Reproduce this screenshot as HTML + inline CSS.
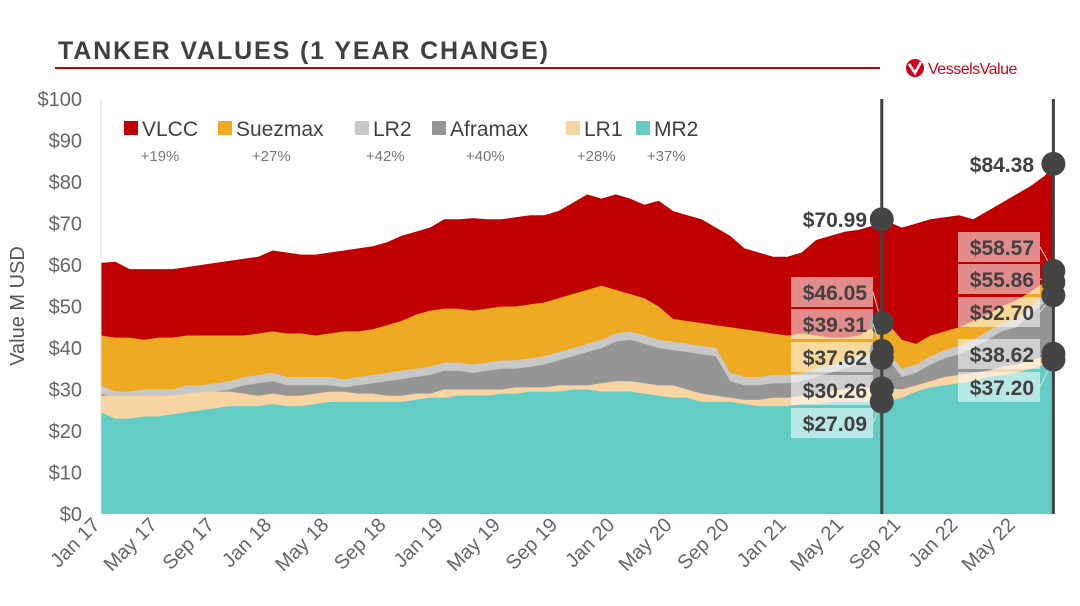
<!DOCTYPE html>
<html><head><meta charset="utf-8"><style>
body{margin:0;background:#fff;}
svg{display:block;font-family:"Liberation Sans",sans-serif;}
</style></head><body>
<svg id="chart" width="1080" height="606" viewBox="0 0 1080 606">
<text x="58" y="59" font-size="25" font-weight="bold" fill="#404040" textLength="490" lengthAdjust="spacing">TANKER VALUES (1 YEAR CHANGE)</text>
<line x1="55" y1="68" x2="880" y2="68" stroke="#c00000" stroke-width="2"/>
<g>
<circle cx="915" cy="68" r="9" fill="#d0021b"/>
<path d="M909 64 L915 73 L921 62" stroke="#fff" stroke-width="2.5" fill="none"/>
<text x="928" y="74" font-size="16" fill="#d0021b" letter-spacing="-0.5">VesselsValue</text>
</g>
<text transform="translate(24,306) rotate(-90)" text-anchor="middle" font-size="20" fill="#555">Value M USD</text>
<g id="areas"></g><g id="axes"></g><g id="legend"></g><g id="markers"></g>
</svg>
<script>
const months=[0,1,2,3,4,5,6,7,8,9,10,11,12,13,14,15,16,17,18,19,20,21,22,23,24,25,26,27,28,29,30,31,32,33,34,35,36,37,38,39,40,41,42,43,44,45,46,47,48,49,50,51,52,53,54,55,56,57,58,59,60,61,62,63,64,65,66,66.6];
const vlcc=[60.5,60.8,59,59,59,59,59.5,60,60.5,61,61.5,62,63.5,63,62.5,62.5,63,63.5,64,64.5,65.5,67,68,69,71,71,71.3,71,71,71.5,72,72,73,75,77,76,77,76,74.5,75.5,73,72,71,69,67,64,63,62,62,63,66,67,68,68.5,69.5,70.5,69,70,71,71.5,72,71,73,75,77,79,81.5,84.4];
const suezmax=[43,42.5,42.5,42,42.5,42.5,43,43,43,43,43,43.5,44,43.5,43.5,43,43.5,44,44,44.5,45.5,46.5,48,49,49.5,49.5,49,49.5,50,50,50.5,51,52,53,54,55,54,53,52,50,47,46.5,46,45.5,45,44.5,44,43.5,43,43.5,43,42.5,42.5,43,45,46,42,41,43,44,45,46.5,48,50,51.5,53.5,56,58.6];
const lr2=[31,29.5,29.5,30,30,30,31,31,31.5,32,33,33.5,34,33,33,33,33,32.5,33,33.5,34,34.5,35,35.5,36.5,36.5,36,36.5,37,37,37.5,38,39,40,41,42,43.5,44,43,42,41.5,41,40.5,40,34,33,33,33.5,33.5,34,35,36,37,38,38.5,39.3,35,36,38,39.5,40.5,42,44,46,47,50,53,55.9];
const aframax=[29,28,28,28,28,28,29,29,29.5,30,31,31.5,32,31,31,31,31,30.5,31,31.5,32,32.5,33,33.5,34.5,34.5,34,34.5,35,35,35.5,36,37,38,39,40,41.5,42,41,40,39.5,39,38.5,38,32,31,31,31.5,31.5,32,33,34,35,36,36.5,37.6,33,34,36,37.5,38.5,40,42,44,45,48,51,52.7];
const lr1=[28.5,28.5,28.5,28.5,28.5,28.5,29,29.5,29.5,29.5,29,28.5,29,28.5,28.5,29,29.5,29.5,29,29,28.5,28.5,29,29,30,30,30,30,30,30.5,30.5,30.5,31,31,31,31.5,32,32,31.5,31,31,30,29,28.5,28,27.5,27.5,28,28,28.5,29,29.5,30,30.5,30.5,30.3,30,31,32,33,33.5,34,34.5,35.5,36,37,38,38.6];
const mr2=[24.5,23,23,23.5,23.5,24,24.5,25,25.5,26,26,26,26.5,26,26,26.5,27,27,27,27,27,27,27.5,28,28,28.5,28.5,28.5,29,29,29.5,29.5,29.5,30,30,29.5,29.5,29.5,29,28.5,28,28,27,27,27,26.5,26,26,26,26.5,26.5,27,27,27,27,27.1,28,29.5,30.5,31,31.5,32,33,33.5,34,35,36,37.2];
const seriesNames=["VLCC","Suezmax","LR2","Aframax","LR1","MR2"];
const changes=["+19%","+27%","+42%","+40%","+28%","+37%"];
const yTicks=[0,10,20,30,40,50,60,70,80,90,100];
const xTickLabels=["Jan 17","May 17","Sep 17","Jan 18","May 18","Sep 18","Jan 19","May 19","Sep 19","Jan 20","May 20","Sep 20","Jan 21","May 21","Sep 21","Jan 22","May 22"];
const startVals=[70.99,46.05,39.31,37.62,30.26,27.09];
const endVals=[84.38,58.57,55.86,52.70,38.62,37.20];
const markMonth=54.6, endMonth=66.6;

const NS="http://www.w3.org/2000/svg";
const colors=["#c00000","#eeaa22","#c8c8c8","#959595","#f8d5a2","#63ccc5"];
const X=m=>101+m*14.3;
const Y=v=>514-v*4.15;
function mk(tag,attrs,parent){const e=document.createElementNS(NS,tag);for(const k in attrs)e.setAttribute(k,attrs[k]);parent.appendChild(e);return e;}
const areasG=document.getElementById('areas'),axesG=document.getElementById('axes'),legG=document.getElementById('legend'),mkG=document.getElementById('markers');
[vlcc,suezmax,lr2,aframax,lr1,mr2].forEach((s,i)=>{
  let d="M"+X(months[0])+","+Y(0);
  s.forEach((v,j)=>{d+=" L"+X(months[j]).toFixed(1)+","+Y(v).toFixed(1);});
  d+=" L"+X(months[months.length-1])+","+Y(0)+" Z";
  const p=mk('path',{d:d,fill:colors[i]},areasG);
  
  
});
yTicks.forEach(t=>{
  const tx=mk('text',{x:82,y:Y(t)+7,'text-anchor':'end','font-size':20,fill:'#666'},axesG);
  tx.textContent='$'+t;
  
  
});
const ax=mk('line',{x1:101,y1:99,x2:101,y2:514,stroke:'#ddd','stroke-width':1},axesG);


xTickLabels.forEach((l,i)=>{
  const x=X(i*4);
  const tx=mk('text',{x:x,y:526,'text-anchor':'end','font-size':20,fill:'#666',transform:`rotate(-45 ${x} 526)`},axesG);
  tx.textContent=l;
  
  
});
const legX=[124,218,355,432,566,636];
seriesNames.forEach((n,i)=>{
  const g=mk('g',{},legG);
  
  
  mk('rect',{x:legX[i],y:121,width:14,height:14,fill:colors[i]},g);
  const t=mk('text',{x:legX[i]+18,y:136,'font-size':21,fill:'#404040'},g);t.textContent=n;
  const w=n.length*11.5+18;
  const c=mk('text',{x:legX[i]+w/2+4,y:161,'text-anchor':'middle','font-size':15,fill:'#777'},g);c.textContent=changes[i];
});
[markMonth,endMonth].forEach((m,i)=>{
  const l=mk('line',{x1:X(m),y1:99,x2:X(m),y2:514,stroke:'#404040','stroke-width':3},mkG);
  
  
});
function labels(vals,m,right,ys){
  vals.forEach((v,i)=>{
    const cx=X(m),cy=Y(v);
    const ly=ys[i];
    const tx=right;
    if(i>0){
      mk('rect',{x:tx-76,y:ly-15,width:82,height:30,fill:'rgba(255,255,255,0.55)'},mkG);
      mk('line',{x1:tx+6,y1:ly,x2:cx,y2:cy,stroke:'#ddd','stroke-width':1},mkG);
    }
    const c=mk('circle',{cx:cx,cy:cy,r:12,fill:'#444'},mkG);
    
    
    const t=mk('text',{x:tx,y:ly+8,'text-anchor':'end','font-size':21,'font-weight':'bold',fill:'#404040'},mkG);
    t.textContent='$'+v.toFixed(2);
    
    
  });
}
labels(startVals,markMonth,867,[219,292,324,357,390,423]);
labels(endVals,endMonth,1034,[164,247,279,312,354,387]);
</script>
</body></html>
